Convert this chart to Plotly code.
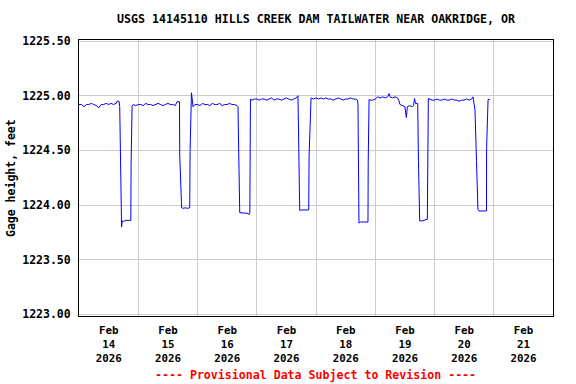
import pandas as pd
import plotly.graph_objects as go

# Hours since 2026-02-14 00:00 (local) and gage height (feet)
hours = [
    0, 1, 2, 3, 4, 5, 6, 7, 8, 9, 10, 11, 12, 13, 14, 15, 15.5, 16.2, 16.5, 16.9, 17.25, 17.5, 18, 19, 20, 21, 21.1, 21.5, 22, 23,
    24, 25, 26, 27, 28, 29, 30, 31, 32, 33, 34, 35, 36, 37, 38, 39, 39.7, 40.7, 40.8, 41.5, 41.6, 42, 43, 44, 44.85, 45.0, 45.55, 46.2, 47,
    48, 49, 50, 51, 52, 53, 54, 55, 56, 57, 58, 59, 60, 61, 62, 63, 64, 64.4, 65.1, 66, 67, 68, 69, 69.2, 69.45, 70, 71,
    72, 73, 74, 75, 76, 77, 78, 79, 80, 81, 82, 83, 84, 85, 86, 87, 88, 88.7, 89.0, 89.4, 90, 91, 92, 93.05, 93.2, 93.85, 94, 95,
    96, 97, 98, 99, 100, 101, 102, 103, 104, 105, 106, 107, 108, 109, 110, 111, 112, 112.8, 113.0, 113.4, 114, 115, 116, 117.05, 117.15, 117.5, 118, 119,
    120, 121, 122, 123, 124, 125, 125.6, 126, 127, 128, 129, 129.5, 130, 131, 132, 132.6, 133, 134, 135, 135.5, 135.9, 136.3, 137.2, 137.5, 137.75, 138, 139, 140, 141.1, 141.5, 142, 143,
    144, 145, 146, 147, 148, 149, 150, 151, 152, 153, 154, 155, 156, 157, 158, 159, 159.6, 160.4, 161.0, 161.6, 162, 163, 164, 165.05, 165.1, 165.7, 166.4,
]
gage_height = [
    1224.92, 1224.92, 1224.90, 1224.92, 1224.92, 1224.93, 1224.92, 1224.91, 1224.89, 1224.92, 1224.92, 1224.93, 1224.92, 1224.93, 1224.92, 1224.93, 1224.95, 1224.95, 1224.90, 1224.28, 1223.80, 1223.855, 1223.85, 1223.86, 1223.86, 1223.86, 1224.37, 1224.905, 1224.92, 1224.91,
    1224.92, 1224.92, 1224.91, 1224.93, 1224.92, 1224.92, 1224.91, 1224.92, 1224.93, 1224.92, 1224.91, 1224.92, 1224.93, 1224.92, 1224.92, 1224.91, 1224.945, 1224.945, 1224.456, 1224.02, 1223.974, 1223.97, 1223.975, 1223.97, 1223.975, 1224.49, 1225.027, 1224.90, 1224.92,
    1224.92, 1224.91, 1224.93, 1224.92, 1224.92, 1224.91, 1224.93, 1224.92, 1224.92, 1224.93, 1224.91, 1224.92, 1224.92, 1224.93, 1224.92, 1224.92, 1224.91, 1224.90, 1223.93, 1223.93, 1223.93, 1223.925, 1223.915, 1223.93, 1224.969, 1224.96, 1224.97,
    1224.97, 1224.96, 1224.97, 1224.97, 1224.96, 1224.97, 1224.98, 1224.96, 1224.97, 1224.97, 1224.96, 1224.97, 1224.98, 1224.97, 1224.96, 1224.97, 1224.98, 1225.00, 1224.334, 1223.952, 1223.955, 1223.955, 1223.96, 1223.955, 1224.447, 1224.969, 1224.98, 1224.97,
    1224.98, 1224.97, 1224.98, 1224.97, 1224.98, 1224.97, 1224.97, 1224.96, 1224.97, 1224.98, 1224.97, 1224.96, 1224.97, 1224.97, 1224.98, 1224.97, 1224.97, 1224.96, 1224.92, 1223.836, 1223.845, 1223.845, 1223.845, 1223.845, 1224.395, 1224.966, 1224.96, 1224.96,
    1224.97, 1224.99, 1224.98, 1224.99, 1224.98, 1224.99, 1225.02, 1224.99, 1224.98, 1224.99, 1224.98, 1224.96, 1224.92, 1224.91, 1224.90, 1224.80, 1224.90, 1224.91, 1224.90, 1224.91, 1224.975, 1224.93, 1224.93, 1224.41, 1223.867, 1223.855, 1223.855, 1223.86, 1223.87, 1224.975, 1224.97, 1224.96,
    1224.96, 1224.97, 1224.96, 1224.96, 1224.97, 1224.96, 1224.96, 1224.97, 1224.96, 1224.96, 1224.95, 1224.96, 1224.96, 1224.97, 1224.96, 1224.97, 1224.99, 1224.87, 1224.41, 1223.959, 1223.946, 1223.946, 1223.95, 1223.946, 1224.517, 1224.966, 1224.966,
]
y_ticks = [1223.0, 1223.5, 1224.0, 1224.5, 1225.0, 1225.5]

start = pd.Timestamp("2026-02-14 00:00")
times = [start + pd.Timedelta(hours=h) for h in hours]

FONT = "DejaVu Sans Mono"

fig = go.Figure()
fig.add_trace(go.Scatter(
    x=times, y=gage_height, mode="lines",
    line=dict(color="#0000ff", width=1),
    showlegend=False, hoverinfo="skip",
))

fig.update_layout(
    width=576, height=384,
    margin=dict(l=79, r=23, t=40, b=68),
    paper_bgcolor="white", plot_bgcolor="white",
    font=dict(family=FONT, size=11.5, color="black", weight="bold"),
    title=dict(
        text="USGS 14145110 HILLS CREEK DAM TAILWATER NEAR OAKRIDGE, OR",
        x=0.5, xref="paper", xanchor="center",
        y=1 - 19 / 384, yref="container", yanchor="middle",
        font=dict(family=FONT, size=11.6, color="black", weight="bold"),
    ),
    xaxis=dict(
        range=["2026-02-14", "2026-02-22"],
        tick0="2026-02-14", dtick=86400000,
        ticklabelmode="period", tickformat="%b<br>%d<br>%Y",
        tickfont=dict(size=10.8),
        ticklabelstandoff=4,
        showgrid=True, gridcolor="#cccccc", gridwidth=1,
        showline=True, linecolor="black", linewidth=1, mirror=True,
        ticks="", zeroline=False,
    ),
    yaxis=dict(
        range=[1222.985, 1225.51],
        tickvals=y_ticks, tickformat=".2f",
        ticklabelstandoff=5,
        showgrid=True, gridcolor="#cccccc", gridwidth=1,
        showline=True, linecolor="black", linewidth=1, mirror=True,
        ticks="", zeroline=False,
    ),
    annotations=[
        dict(text="Gage height, feet", xref="paper", yref="paper",
             x=-(79 - 11) / 474, y=0.5, xanchor="center", yanchor="middle",
             textangle=-90, showarrow=False,
             font=dict(family=FONT, size=11.5, color="black", weight="bold")),
        dict(text="---- Provisional Data Subject to Revision ----",
             xref="paper", yref="paper",
             x=(315 - 79) / 474, y=(316 - 375) / 276,
             xanchor="center", yanchor="middle", showarrow=False,
             font=dict(family=FONT, size=11.6, color="red", weight="bold")),
    ],
)

fig.write_html("out.html", config={"displayModeBar": False},
               post_script="document.body.style.margin='0';")
